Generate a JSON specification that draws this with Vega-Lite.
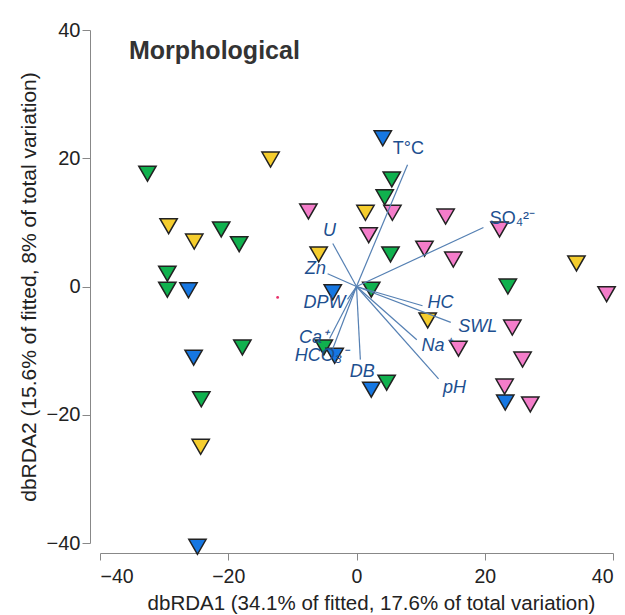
{
  "$schema": "https://vega.github.io/schema/vega-lite/v6.json",
  "width": 513,
  "height": 513,
  "autosize": {"type": "none"},
  "padding": {"left": 100, "top": 30, "right": 12, "bottom": 72},
  "background": "white",
  "config": {
    "view": {"stroke": null},
    "font": "Liberation Sans",
    "axis": {"grid": false, "domainColor": "#888", "tickColor": "#888", "labelColor": "#222", "titleColor": "#222", "labelFont": "Liberation Sans", "titleFont": "Liberation Sans", "titleFontWeight": "normal"}
  },
  "title": {"text": "Morphological", "anchor": "start", "frame": "group", "fontSize": 25, "fontWeight": "bold", "color": "#333", "font": "Liberation Sans", "dx": 29, "dy": 48},
  "datasets": {
    "sites": [
      {"group": "A", "x": -32.6, "y": 17.6},
      {"group": "A", "x": -21.1, "y": 8.9},
      {"group": "A", "x": -18.3, "y": 6.6},
      {"group": "A", "x": -29.5, "y": 2.0},
      {"group": "A", "x": -29.5, "y": -0.5},
      {"group": "A", "x": -17.8, "y": -9.5},
      {"group": "A", "x": -24.2, "y": -17.6},
      {"group": "A", "x": -5.1, "y": -9.5},
      {"group": "A", "x": 5.5, "y": 16.7},
      {"group": "A", "x": 4.4, "y": 13.9},
      {"group": "A", "x": 5.3, "y": 5.0},
      {"group": "A", "x": 2.3, "y": -0.5},
      {"group": "A", "x": 23.6, "y": 0.0},
      {"group": "A", "x": 4.7, "y": -15.0},
      {"group": "B", "x": -7.5, "y": 11.7},
      {"group": "B", "x": 5.6, "y": 11.5},
      {"group": "B", "x": 13.9, "y": 10.9},
      {"group": "B", "x": 22.3, "y": 8.9},
      {"group": "B", "x": 1.9, "y": 8.0},
      {"group": "B", "x": 10.6, "y": 5.9},
      {"group": "B", "x": 15.1, "y": 4.2},
      {"group": "B", "x": 39.0, "y": -1.2},
      {"group": "B", "x": 24.3, "y": -6.4},
      {"group": "B", "x": 15.9, "y": -9.7},
      {"group": "B", "x": 25.9, "y": -11.4},
      {"group": "B", "x": 23.1, "y": -15.6},
      {"group": "B", "x": 27.1, "y": -18.4},
      {"group": "C", "x": -13.4, "y": 19.8},
      {"group": "C", "x": -29.3, "y": 9.4},
      {"group": "C", "x": -25.3, "y": 7.0},
      {"group": "C", "x": -5.9, "y": 5.0},
      {"group": "C", "x": 1.4, "y": 11.5},
      {"group": "C", "x": 34.3, "y": 3.6},
      {"group": "C", "x": 11.1, "y": -5.3},
      {"group": "C", "x": -24.3, "y": -25.0},
      {"group": "D", "x": 4.1, "y": 23.1},
      {"group": "D", "x": -26.2, "y": -0.6},
      {"group": "D", "x": -3.7, "y": -0.9},
      {"group": "D", "x": -25.4, "y": -11.1},
      {"group": "D", "x": -3.4, "y": -10.8},
      {"group": "D", "x": 2.3, "y": -16.1},
      {"group": "D", "x": 23.2, "y": -18.1},
      {"group": "D", "x": -24.8, "y": -40.6}
    ],
    "vectors": [
      {"name": "T°C", "style": "upright", "ox": 0, "oy": 0, "vx": 7.96, "vy": 19.0, "lx": 8.1, "ly": 21.4},
      {"name": "SO₄²⁻", "style": "upright", "ox": 0, "oy": 0, "vx": 19.8, "vy": 9.2, "lx": 24.3, "ly": 10.5},
      {"name": "U", "style": "italic", "ox": 0, "oy": 0, "vx": -3.7, "vy": 6.7, "lx": -4.2, "ly": 8.6},
      {"name": "Zn", "style": "italic", "ox": 0, "oy": 0, "vx": -4.5, "vy": 2.0, "lx": -6.4, "ly": 2.7},
      {"name": "DPW", "style": "italic", "ox": 0, "oy": 0, "vx": -1.4, "vy": -2.0, "lx": -5.0, "ly": -2.6},
      {"name": "Ca⁺", "style": "italic", "ox": 0, "oy": 0, "vx": -4.2, "vy": -8.1, "lx": -6.7, "ly": -8.0},
      {"name": "HCO₃⁻", "style": "italic", "ox": 0, "oy": 0, "vx": -3.7, "vy": -9.7, "lx": -5.5, "ly": -10.9},
      {"name": "DB", "style": "italic", "ox": 0, "oy": 0, "vx": 0.6, "vy": -11.4, "lx": 0.9, "ly": -13.4},
      {"name": "HC", "style": "italic", "ox": 0, "oy": 0, "vx": 10.3, "vy": -3.0, "lx": 13.1, "ly": -2.5},
      {"name": "SWL", "style": "italic", "ox": 0, "oy": 0, "vx": 14.7, "vy": -5.6, "lx": 18.9, "ly": -6.3},
      {"name": "Na⁺", "style": "italic", "ox": 0, "oy": 0, "vx": 9.4, "vy": -8.3, "lx": 12.4, "ly": -9.3},
      {"name": "pH", "style": "italic", "ox": 0, "oy": 0, "vx": 12.8, "vy": -14.4, "lx": 15.3, "ly": -15.8}
    ],
    "dot": [{"x": -12.3, "y": -1.7}]
  },
  "layer": [
    {
      "data": {"name": "dot"},
      "mark": {"type": "point", "filled": true, "size": 8, "color": "#e8306a", "opacity": 1},
      "encoding": {
        "x": {"field": "x", "type": "quantitative", "scale": {"domain": [-40, 40], "nice": false, "zero": false},
          "axis": {"values": [-40, -20, 0, 20, 40], "offset": 10, "tickSize": 7, "labelPadding": 7, "labelFontSize": 19.5, "titleFontSize": 20.5, "title": "dbRDA1 (34.1% of fitted, 17.6% of total variation)", "titleX": 271, "titleY": 56, "titleBaseline": "alphabetic"}},
        "y": {"field": "y", "type": "quantitative", "scale": {"domain": [-40, 40], "nice": false, "zero": false},
          "axis": {"values": [-40, -20, 0, 20, 40], "offset": 10, "tickSize": 8, "labelPadding": 2, "labelFontSize": 20, "titleFontSize": 21, "title": "dbRDA2 (15.6% of fitted, 8% of total variation)", "titleX": -61, "titleBaseline": "middle"}}
      }
    },
    {
      "data": {"name": "sites"},
      "mark": {"type": "point", "shape": "triangle-down", "filled": true, "size": 300, "stroke": "#222", "strokeWidth": 1.5, "opacity": 1},
      "encoding": {
        "x": {"field": "x", "type": "quantitative"},
        "y": {"field": "y", "type": "quantitative"},
        "color": {"field": "group", "type": "nominal", "scale": {"domain": ["A", "B", "C", "D"], "range": ["#10b14e", "#f47dca", "#f5cd2d", "#1677e2"]}, "legend": null}
      }
    },
    {
      "data": {"name": "vectors"},
      "mark": {"type": "rule", "color": "#5580b3", "strokeWidth": 1.2},
      "encoding": {
        "x": {"field": "ox", "type": "quantitative"},
        "y": {"field": "oy", "type": "quantitative"},
        "x2": {"field": "vx"},
        "y2": {"field": "vy"}
      }
    },
    {
      "data": {"name": "vectors"},
      "transform": [{"filter": "datum.style === 'italic'"}],
      "mark": {"type": "text", "fontSize": 18, "fontStyle": "italic", "color": "#1d4f8f", "font": "Liberation Sans"},
      "encoding": {
        "x": {"field": "lx", "type": "quantitative"},
        "y": {"field": "ly", "type": "quantitative"},
        "text": {"field": "name"}
      }
    },
    {
      "data": {"name": "vectors"},
      "transform": [{"filter": "datum.style === 'upright'"}],
      "mark": {"type": "text", "fontSize": 18, "color": "#1d4f8f", "font": "Liberation Sans"},
      "encoding": {
        "x": {"field": "lx", "type": "quantitative"},
        "y": {"field": "ly", "type": "quantitative"},
        "text": {"field": "name"}
      }
    }
  ]
}
